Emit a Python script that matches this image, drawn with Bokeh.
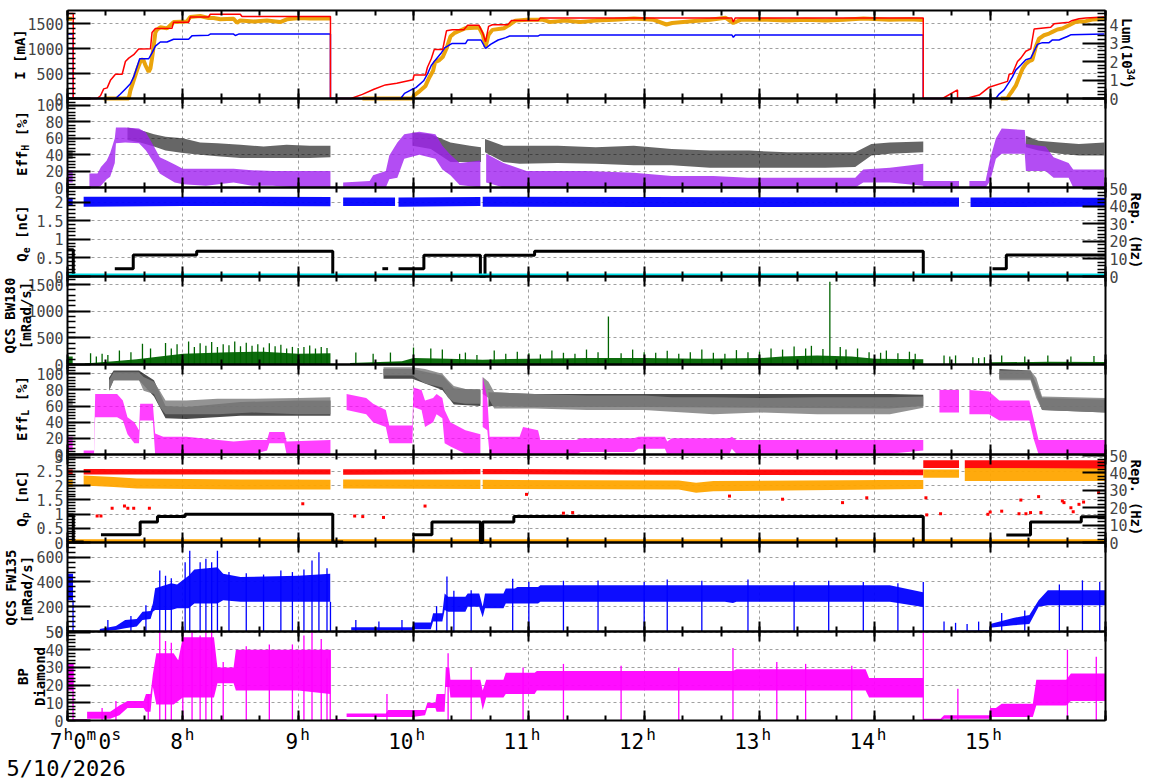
import math
from bokeh.plotting import figure
from bokeh.models import (Range1d, LinearAxis, SingleIntervalTicker, Label,
                          CustomJSTickFormatter)
from bokeh.embed import file_html
from bokeh.resources import INLINE

MONO = "DejaVu Sans Mono"

# ---------------- data (hours of day) ----------------
HOUR_TICKS = [8, 9, 10, 11, 12, 13, 14, 15]
DATE_TEXT = "5/10/2026"

# Panel 1: beam currents [mA] and luminosity [1e34]
I_red = [(7.0,1700),(7.05,1700),(7.05,0),(7.257,0),(7.286,55),(7.314,192),(7.344,212),(7.372,363),(7.416,486),(7.474,486),(7.502,740),(7.531,808),(7.574,877),(7.617,990),(7.719,993),(7.733,1322),(7.762,1400),(7.906,1404),(7.92,1527),(8.05,1527),(8.065,1630),(8.223,1630),(8.238,1685),(8.498,1685),(8.513,1640),(9.28,1640),(9.28,0),
         (9.458,0),(9.557,82),(9.657,184),(9.756,272),(9.855,306),(9.995,374),(10.005,469),(10.104,469),(10.121,626),(10.154,796),(10.18,980),(10.253,980),(10.286,1354),(10.336,1374),(10.436,1374),(10.469,1463),(10.568,1463),(10.601,1306),(10.625,1136),(10.651,1442),(10.684,1476),(10.817,1476),(10.85,1558),(11.082,1558),(11.099,1612),(12.76,1612),(12.773,1530),(12.79,1612),(14.42,1612),(14.42,0),
         (14.587,0),(14.717,171),(14.717,0),(14.79,0),(14.905,68),(14.991,226),(15.15,342),(15.165,486),(15.193,500),(15.237,740),(15.266,808),(15.309,945),(15.352,993),(15.381,1390),(15.525,1425),(15.554,1493),(15.684,1527),(15.713,1562),(15.771,1596),(15.829,1610),(15.99,1630)]
I_blue = [(7.0,1288),(7.05,1288),(7.05,0),(7.416,0),(7.459,89),(7.502,192),(7.545,295),(7.574,431),(7.603,637),(7.626,795),(7.704,795),(7.733,911),(7.762,1048),(7.805,1130),(7.863,1130),(7.92,1185),(8.05,1185),(8.079,1253),(8.223,1267),(8.238,1288),(8.44,1288),(8.455,1260),(8.484,1288),(9.28,1288),(9.28,0),
          (9.889,0),(9.922,102),(9.988,184),(10.021,218),(10.088,354),(10.121,490),(10.154,660),(10.187,762),(10.237,898),(10.27,1013),(10.32,1081),(10.336,1102),(10.452,1102),(10.469,1170),(10.585,1170),(10.625,1000),(10.668,1081),(10.734,1170),(10.8,1217),(10.834,1251),(11.082,1251),(11.099,1272),(12.76,1272),(12.773,1225),(12.79,1272),(14.42,1272),(14.42,0),
          (15.049,0),(15.078,89),(15.121,171),(15.165,329),(15.193,431),(15.222,568),(15.266,671),(15.309,774),(15.352,808),(15.381,945),(15.41,1082),(15.453,1117),(15.511,1117),(15.54,1171),(15.597,1171),(15.626,1199),(15.669,1240),(15.698,1274),(15.99,1288)]
Lum = [(7.0,4.31),(7.04,4.31), None,
       (7.314,0.0),(7.531,0.0),(7.545,0.43),(7.574,0.98),(7.603,1.54),(7.632,2.0),(7.655,2.13),(7.675,1.81),(7.704,1.44),(7.719,1.63),(7.733,2.18),(7.747,2.83),(7.762,3.57),(7.776,3.72),(7.805,3.85),(7.863,3.79),(7.906,4.04),(7.92,4.13),(8.036,4.16),(8.065,4.41),(8.151,4.46),(8.223,4.35),(8.267,4.35),(8.325,4.28),(8.44,4.31),(8.469,4.09),(8.498,4.22),(8.613,4.16),(8.729,4.22),(8.844,4.13),(8.902,4.28),(9.017,4.35),(9.1,4.32),(9.279,4.32), None,
       (9.557,0.0),(9.988,0.0),(10.005,0.17),(10.054,0.4),(10.104,0.68),(10.137,1.14),(10.17,1.5),(10.187,1.97),(10.22,2.06),(10.253,2.24),(10.286,2.7),(10.32,3.35),(10.353,3.53),(10.386,3.62),(10.452,3.8),(10.568,3.84),(10.601,3.44),(10.625,2.79),(10.651,3.44),(10.684,3.71),(10.784,3.8),(10.834,3.99),(10.883,4.21),(10.983,4.26),(11.115,4.26),(11.182,4.14),(11.314,4.21),(11.447,4.14),(11.58,4.21),(11.745,4.26),(11.911,4.32),(12.077,4.26),(12.193,4.0),(12.243,4.08),(12.409,4.18),(12.574,4.26),(12.707,4.36),(12.773,4.08),(12.84,4.26),(13.072,4.26),(13.237,4.21),(13.403,4.26),(13.569,4.21),(13.735,4.26),(13.901,4.32),(14.126,4.26),(14.3,4.28),(14.418,4.25), None,
       (15.092,0.0),(15.15,0.0),(15.165,0.18),(15.193,0.42),(15.222,0.69),(15.251,1.15),(15.28,1.6),(15.309,1.87),(15.338,2.02),(15.366,2.09),(15.395,2.78),(15.424,3.24),(15.467,3.42),(15.511,3.51),(15.54,3.6),(15.583,3.73),(15.626,3.78),(15.684,3.96),(15.742,4.15),(15.829,4.18),(15.886,4.27),(15.944,4.29),(15.99,4.33)]

# Panel 2: Eff_H [%]  (time, low, high) of the point clouds
EffH_black = [(7.0,35,45),(7.045,35,45), None,
              (7.52,58,73),(7.63,55,70),(7.75,50,65),(7.85,45,62),(8.0,42,60),(8.15,40,55),(8.3,38,54),(8.5,36,52),(8.7,36,50),(8.9,36,52),(9.1,36,51),(9.28,37,51), None,
              (9.99,51,67),(10.15,47,65),(10.32,31,55),(10.49,31,51),(10.585,31,49), None,
              (10.62,43,59),(10.78,31,51),(10.92,29,51),(11.25,30,51),(11.58,29,49),(11.91,27,51),(12.24,27,47),(12.57,24,45),(12.91,24,45),(13.24,24,43),(13.57,24,43),(13.83,25,43),(13.97,39,53),(14.13,41,55),(14.42,43,56), None,
              (15.31,49,63),(15.42,45,57),(15.6,41,55),(15.77,39,53),(15.99,39,55)]
EffH_purple = [(7.0,6,21),(7.045,6,21), None,
               (7.19,0,17),(7.26,0,17),(7.29,2,25),(7.34,10,33),(7.37,13,42),(7.41,30,60),(7.42,54,73),(7.5,55,73),(7.62,54,72),(7.68,45,67),(7.75,30,50),(7.8,17,37),(7.86,12,33),(7.93,6,28),(8.0,4,23),(8.2,2,23),(8.44,6,23),(8.6,2,21),(8.78,2,20),(9.0,0,20),(9.28,0,20), None,
               (9.39,0,6),(9.62,0,8),(9.65,0,15),(9.76,0,20),(9.79,10,39),(9.86,12,55),(9.92,35,65),(10.05,40,68),(10.19,35,65),(10.25,22,51),(10.32,15,40),(10.4,3,30),(10.58,0,33), None,
               (10.63,6,41),(10.78,0,30),(10.98,0,20),(11.5,0,20),(11.91,0,18),(12.24,0,14),(12.6,0,14),(12.9,0,12),(13.4,0,12),(13.83,0,12),(13.9,6,22),(14.13,6,24),(14.42,2,29),(14.42,0,8),(14.73,0,8), None,
               (14.82,0,8),(14.96,0,8),(15.0,8,35),(15.05,35,60),(15.1,41,72),(15.3,41,70),(15.31,20,53),(15.48,20,50),(15.55,12,37),(15.68,12,30),(15.72,0,22),(15.99,0,22)]

# Panel 3: Q_e [nC]
Qe_blue = [(7.0,1.9,2.12),(7.045,1.9,2.12), None, (7.14,1.88,2.15),(8.0,1.9,2.15),(9.28,1.89,2.14), None,
           (9.39,1.9,2.13),(9.84,1.9,2.13), None, (9.87,1.88,2.13),(10.58,1.9,2.14), None,
           (10.6,1.88,2.15),(12.0,1.87,2.14),(14.73,1.88,2.13), None, (14.83,1.87,2.13),(16.0,1.88,2.12)]
Qe_rep = [(7.0,0.72),(7.05,0.72),(7.05,0.02),(7.14,0.02), None,
          (7.41,0.21),(7.57,0.21),(7.57,0.58),(8.12,0.58),(8.12,0.68),(9.3,0.68),(9.3,0.02),(9.39,0.02), None,
          (9.73,0.21),(9.78,0.21), None,
          (9.87,0.21),(10.09,0.21),(10.09,0.57),(10.58,0.57),(10.58,0.0),(10.62,0.0),(10.62,0.57),(11.05,0.57),(11.05,0.68),(14.42,0.68),(14.42,0.0), None,
          (14.73,0.02),(14.83,0.02), None,
          (15.02,0.21),(15.14,0.21),(15.14,0.58),(16.0,0.58)]
Qe_zero = [(7.0,0.03),(16.0,0.03)]

# Panel 4: QCS BW180 [mRad/s]
BW180_fill = [(7.0,0,150),(7.045,0,150), None,
              (7.15,0,20),(7.4,0,60),(7.6,0,100),(7.8,0,150),(8.0,0,200),(8.4,0,230),(8.7,0,240),(9.0,0,200),(9.28,0,210), None,
              (9.45,0,30),(9.9,0,60),(10.0,0,120),(10.3,0,110),(10.6,0,90),(11.0,0,110),(11.5,0,120),(12.0,0,120),(12.5,0,110),(13.0,0,120),(13.2,0,150),(13.5,0,170),(13.8,0,150),(14.0,0,110),(14.42,0,100), None,
              (15.0,0,40),(15.5,0,50),(16.0,0,45)]
BW180_spikes = [(7.2,211),(7.25,150),(7.3,200),(7.35,180),(7.45,262),(7.55,230),(7.65,387),(7.72,300),(7.85,405),(7.9,300),(7.95,380),(8.05,430),(8.1,330),(8.15,400),(8.2,350),(8.25,420),(8.3,330),(8.35,380),(8.4,360),(8.45,430),(8.5,340),(8.55,410),(8.6,350),(8.65,380),(8.7,320),(8.75,400),(8.8,340),(8.85,370),(8.9,300),(8.95,330),(9.0,310),(9.05,330),(9.1,355),(9.15,300),(9.2,330),(9.25,310),
                (9.5,224),(9.65,200),(9.8,224),(10.0,318),(10.15,300),(10.25,280),(10.4,200),(10.45,224),(10.55,180),(10.7,262),(10.8,200),(10.9,240),(11.0,210),(11.1,190),(11.2,262),(11.3,220),(11.4,200),(11.5,280),(11.6,230),(11.69,900),(11.8,210),(11.9,280),(12.0,230),(12.1,220),(12.2,260),(12.3,200),(12.4,230),(12.5,280),(12.6,220),(12.7,200),(12.8,270),(12.9,230),(13.0,240),(13.1,300),(13.2,280),(13.3,336),(13.4,300),(13.45,350),(13.55,290),(13.61,1550),(13.7,330),(13.75,280),(13.85,300),(13.95,230),(14.05,220),(14.1,262),(14.2,210),(14.3,240),(14.35,200),
                (14.6,170),(14.65,150),(14.7,170),(14.85,137),(14.9,120),(14.95,137),(15.1,168),(15.3,150),(15.5,168),(15.7,150),(15.9,160)]

# Panel 5: Eff_L [%]
EffL_black = [(7.36,79,95),(7.4,92,104),(7.62,92,104),(7.75,72,92),(7.85,45,60),(8.03,44,59),(8.5,48,65),(9.0,48,67),(9.28,48,67), None,
              (9.74,94,106),(9.99,94,106),(10.25,80,98),(10.35,62,82),(10.58,60,80), None,
              (10.65,60,77),(11.05,59,75),(12.0,59,75),(13.0,58,75),(14.13,57,75),(14.42,60,74), None,
              (15.08,94,106),(15.35,94,104),(15.45,55,70),(16.0,52,68)]
EffL_gray = [(7.0,61,69),(7.045,61,69), None,
             (7.36,79,92),(7.4,92,102),(7.62,92,102),(7.66,79,96),(7.75,75,90),(7.8,59,79),(7.85,50,67),(8.03,50,67),(8.3,50,69),(8.6,52,69),(9.0,50,70),(9.28,50,71), None,
             (9.74,98,108),(9.99,98,108),(10.1,88,106),(10.25,83,100),(10.3,70,92),(10.35,65,85),(10.45,63,81),(10.58,63,81), None,
             (10.6,75,96),(10.65,70,90),(10.7,57,77),(11.05,57,75),(11.5,55,73),(12.0,55,73),(12.24,53,71),(12.6,50,71),(13.0,52,70),(13.5,50,71),(14.13,50,71),(14.42,58,72), None,
             (15.08,92,104),(15.35,92,104),(15.4,70,95),(15.45,55,72),(16.0,52,70)]
EffL_magenta = [(7.0,5,22),(7.045,5,22), None,
                (7.14,0,5),(7.23,0,5),(7.24,46,75),(7.43,46,75),(7.48,42,67),(7.52,25,46),(7.58,14,40),(7.62,14,30),(7.63,42,63),(7.74,42,63),(7.76,0,26),(7.83,0,22),(8.03,0,22),(8.44,0,16),(8.6,0,18),(8.73,5,18),(8.75,14,28),(8.88,14,28),(8.9,0,16),(9.28,0,18), None,
                (9.42,55,75),(9.59,50,70),(9.65,40,63),(9.76,34,55),(9.79,14,36),(9.99,14,36),(10.0,59,83),(10.07,55,80),(10.1,34,67),(10.17,40,70),(10.2,50,75),(10.25,45,70),(10.27,14,55),(10.32,10,40),(10.45,1,30),(10.58,1,25), None,
                (10.6,34,96),(10.64,30,70),(10.66,0,22),(10.92,0,22),(10.95,0,34),(11.08,0,30),(11.1,0,18),(11.41,0,18),(11.45,3,20),(11.91,3,20),(11.95,7,22),(12.18,7,22),(12.2,0,16),(12.24,1,20),(12.74,1,20),(12.76,7,22),(12.8,1,18),(14.13,1,18),(14.42,5,18), None,
                (14.56,52,80),(14.73,52,80), None,
                (14.82,50,80),(14.99,50,78),(15.08,42,67),(15.34,42,67),(15.38,18,42),(15.42,0,18),(16.0,0,18)]

# Panel 6: Q_p [nC]
Qp_red = [(7.0,2.39,2.56),(7.045,2.39,2.56), None, (7.14,2.39,2.58),(9.28,2.39,2.57), None,
          (9.39,2.38,2.57),(10.58,2.4,2.58), None, (10.6,2.4,2.58),(12.0,2.38,2.56),(14.42,2.36,2.56),(14.42,2.62,2.89),(14.73,2.62,2.89), None,
          (14.78,2.6,2.89),(16.0,2.58,2.89)]
Qp_orange = [(7.0,1.95,2.21),(7.045,1.95,2.21), None, (7.14,2.0,2.35),(7.4,1.95,2.3),(7.6,1.9,2.25),(8.5,1.86,2.21),(9.28,1.86,2.2), None,
             (9.39,1.9,2.21),(10.58,1.88,2.2), None, (10.6,1.88,2.2),(12.3,1.86,2.18),(12.45,1.75,2.1),(12.6,1.8,2.16),(14.42,1.88,2.2),(14.42,2.27,2.56),(14.73,2.27,2.56), None,
             (14.78,2.16,2.62),(16.0,2.16,2.6)]
Qp_rep = [(7.0,0.97),(7.05,0.97),(7.05,0.02),(7.14,0.02), None,
          (7.29,0.27),(7.63,0.27),(7.63,0.72),(7.78,0.72),(7.78,0.91),(8.02,0.91),(8.02,0.99),(9.3,0.99),(9.3,0.02),(9.39,0.02), None,
          (9.99,0.27),(10.16,0.27),(10.16,0.72),(10.58,0.72),(10.58,0.0),(10.6,0.0),(10.6,0.72),(10.87,0.72),(10.87,0.91),(14.42,0.91),(14.42,0.0), None,
          (15.14,0.26),(15.35,0.26),(15.35,0.72),(15.79,0.72),(15.79,0.9),(16.0,0.9)]
Qp_zero = [(7.0,0.04),(16.0,0.04)]
Qp_red_out = [(7.257,0.93),(7.29,0.93),(7.387,1.2),(7.494,1.28),(7.523,1.2),(7.574,1.2),(7.71,1.2),(9.04,1.36),(9.49,0.93),(9.56,0.91),(9.74,0.88),(10.1,1.28),(10.98,1.69),(11.3,1.03),(11.38,1.05),(12.74,1.63),(13.2,1.52),(13.72,1.4),(13.93,1.57),(14.443,1.57),(14.45,0.97),(14.57,1.01),(14.98,0.99),(15.0,1.07),(15.1,1.1),(15.266,1.49),(15.25,1.01),(15.31,1.01),(15.35,1.05),(15.42,1.61),(15.44,1.05),(15.626,1.46),(15.64,1.4),(15.7,1.22),(15.72,1.08),(15.77,1.34),(15.81,1.42),(15.94,1.75)]

# Panel 7: QCS FW135 [mRad/s]
FW135_fill = [(7.0,253,467),(7.048,253,467), None,
              (7.28,0,20),(7.42,13,45),(7.5,27,93),(7.6,40,100),(7.65,93,160),(7.72,100,165),(7.74,160,227),(7.76,173,350),(7.9,173,390),(7.95,187,380),(8.05,187,450),(8.1,227,500),(8.3,227,520),(8.35,253,467),(8.5,240,440),(9.0,240,450),(9.278,240,467), None,
              (9.46,8,35),(9.99,8,35),(10.0,19,72),(10.15,19,72),(10.17,80,147),(10.25,80,147),(10.27,173,307),(10.3,160,280),(10.45,160,280),(10.47,200,307),(10.57,200,307),(10.6,115,200),(10.62,187,307),(10.78,187,307),(10.8,227,347),(10.88,227,347),(10.9,227,360),(11.08,227,360),(11.1,240,373),(12.7,240,373),(12.77,230,373),(12.8,240,373),(14.13,240,373),(14.418,197,317), None,
              (14.57,0,5),(14.99,0,10),(15.0,30,60),(15.2,50,110),(15.34,60,133),(15.42,200,253),(15.5,213,333),(16.0,213,333)]
FW135_spikes = [(7.048,253),(7.35,93),(7.55,125),(7.68,213),(7.8,493),(7.85,450),(7.9,430),(8.02,560),(8.06,653),(8.15,560),(8.2,587),(8.25,560),(8.3,653),(8.4,480),(8.55,470),(8.7,460),(8.85,493),(8.95,480),(9.05,500),(9.12,573),(9.18,640),(9.25,510),(9.28,240),(9.5,93),(9.7,80),(9.9,93),(10.2,205),(10.29,445),(10.35,330),(10.5,333),(10.86,427),(11.0,400),(11.3,410),(11.6,413),(12.0,400),(12.2,420),(12.5,410),(12.9,420),(13.3,400),(13.6,410),(13.9,400),(14.2,390),(14.42,400),(14.6,80),(14.7,70),(14.8,60),(14.9,80),(15.1,150),(15.3,170),(15.6,380),(15.8,413),(15.95,400)]
FW135_base = [(9.28,1),(9.46,1), None, (14.42,1),(14.57,1)]

# Panel 8: BP Diamond
BP_fill = [(7.0,17,32),(7.048,17,32), None,
           (7.17,1,5),(7.37,1,5),(7.45,3,8.5),(7.52,7,11),(7.66,7,11),(7.68,5,15),(7.72,5,15),(7.74,19,26),(7.77,9,38),(7.92,9,38),(7.96,11,34),(8.0,13,47),(8.27,13,47),(8.3,21,30),(8.44,21,30),(8.46,17,40),(9.0,17,40),(9.278,15,40), None,
           (9.42,2,4),(9.76,2,4),(9.78,2,6),(9.99,2,6),(10.1,3,6),(10.12,7,10),(10.19,7,10),(10.2,5,15),(10.27,5,15),(10.28,19,30),(10.31,19,30),(10.32,13,23),(10.58,13,23),(10.6,6,17),(10.63,13,23),(10.78,13,23),(10.8,15,27),(11.05,15,27),(11.07,17,28),(12.77,17,28),(12.8,17,29),(13.92,17,29),(13.95,13,24),(14.418,13,24), None,
           (14.42,0,1),(14.57,0,1),(14.6,1,3),(14.99,1,3),(15.0,2,7),(15.05,2,7),(15.1,2,9.5),(15.37,2,9.5),(15.4,8.5,23),(15.66,8.5,23),(15.7,11,26.5),(16.0,11,26.5)]
BP_spikes = [(7.048,32),(7.3,7),(7.42,11),(7.7,15),(7.8,50),(7.85,45),(7.9,44),(8.0,50),(8.08,50),(8.15,48),(8.2,50),(8.25,50),(8.35,33),(8.55,42),(8.75,43),(8.95,43),(9.05,48),(9.12,50),(9.2,46),(9.25,35),(9.278,40),(9.77,15),(10.3,38),(10.5,30),(10.95,30),(11.3,32),(11.8,31),(12.3,30),(12.77,41),(13.15,33),(13.4,32),(13.8,31),(14.42,50),(14.72,18),(15.67,40),(15.92,36)]
BP_base = [(7.05,0.3),(7.17,0.3), None, (9.28,0.3),(9.42,0.3)]

# ---------------- layout (pixel rows of the eight stacked panels) ----------------
W, H = 1172, 782
X0, X1 = 67, 1105                   # panel frame, left/right pixel columns
PXH = (X1 - X0) / 9.0               # pixels per hour
# name, top px, bottom px, y max, major tick step
PANELS = [("p1", 10, 98, 1760, 500), ("p2", 98, 187, 108.5, 20), ("p3", 187, 276, 2.396, 0.5),
          ("p4", 276, 364, 1650, 500), ("p5", 364, 454, 111.5, 20), ("p6", 454, 542, 3.09, 0.5),
          ("p7", 542, 631, 719, 200), ("p8", 631, 720, 50.3, 10)]
RIGHT = {"p1": (4.757, 1), "p3": (50.6, 10), "p6": (50.6, 10)}

def prange(top_px, bot_px, ytop):
    k = ytop / (bot_px - top_px)
    return Range1d(-(H - bot_px) * k, ytop + top_px * k)

p = figure(width=W, height=H, x_range=Range1d(7 - X0 / PXH, 16 + (W - X1) / PXH),
           y_range=Range1d(0, 1), x_axis_type=None, y_axis_type=None, min_border=0,
           toolbar_location=None, output_backend="svg")
p.outline_line_color = None
p.background_fill_color = "white"
p.border_fill_color = "white"

ranges = {}
for name, t, b, ytop, step in PANELS:
    ranges[name] = prange(t, b, ytop)
    if name in RIGHT:
        ranges[name + "r"] = prange(t, b, RIGHT[name][0])
p.extra_y_ranges = ranges

FMT = CustomJSTickFormatter(code="return String(Math.round(tick*1000)/1000);")
GRIDC = "#a0a0a0"
NOLAB = dict(major_label_text_color=None, major_label_text_font_size="1px", major_label_standoff=0)

for name, t, b, ytop, step in PANELS:
    ph = b - t
    # dashed grid (drawn as full-length ticks, kept under the data)
    p.add_layout(LinearAxis(y_range_name=name, fixed_location=0, bounds=(7, 16),
                            ticker=SingleIntervalTicker(interval=1, num_minor_ticks=0),
                            major_tick_in=ph, major_tick_out=0, minor_tick_in=0, minor_tick_out=0,
                            major_tick_line_color=GRIDC, major_tick_line_dash="3 3",
                            major_tick_line_width=1, axis_line_color=None, level="underlay",
                            **NOLAB), "below")
    p.add_layout(LinearAxis(y_range_name=name, fixed_location=7, bounds=(0, ytop),
                            ticker=SingleIntervalTicker(interval=step, num_minor_ticks=0),
                            major_tick_in=X1 - X0, major_tick_out=0, minor_tick_in=0,
                            minor_tick_out=0, major_tick_line_color=GRIDC,
                            major_tick_line_dash="3 3", major_tick_line_width=1,
                            axis_line_color=None, level="underlay", **NOLAB), "left")
    # frame: time ticks on top and bottom
    for loc, side in ((0, "below"), (ytop, "above")):
        p.add_layout(LinearAxis(y_range_name=name, fixed_location=loc, bounds=(7, 16),
                                ticker=SingleIntervalTicker(interval=1, num_minor_ticks=3),
                                major_tick_in=10, major_tick_out=0, minor_tick_in=5,
                                minor_tick_out=0, major_tick_line_width=2,
                                minor_tick_line_width=2, axis_line_width=2, **NOLAB), side)
    # left value axis
    p.add_layout(LinearAxis(y_range_name=name, fixed_location=7, bounds=(0, ytop),
                            ticker=SingleIntervalTicker(interval=step, num_minor_ticks=5),
                            formatter=FMT, major_label_text_font=MONO,
                            major_label_text_font_size="15px", major_label_standoff=4,
                            major_tick_in=23, major_tick_out=0, minor_tick_in=8, minor_tick_out=0,
                            major_tick_line_width=2, minor_tick_line_width=1.5,
                            axis_line_width=2), "left")
    # right axis (with ticks where the panel has a second scale)
    if name in RIGHT:
        rtop, rstep = RIGHT[name]
        p.add_layout(LinearAxis(y_range_name=name + "r", fixed_location=16, bounds=(0, rtop),
                                ticker=SingleIntervalTicker(interval=rstep, num_minor_ticks=5),
                                formatter=FMT, major_label_text_font=MONO,
                                major_label_text_font_size="15px", major_label_standoff=4,
                                major_tick_in=23, major_tick_out=0, minor_tick_in=8,
                                minor_tick_out=0, major_tick_line_width=2,
                                minor_tick_line_width=1.5, axis_line_width=2), "right")
    else:
        p.add_layout(LinearAxis(y_range_name=name, fixed_location=16, bounds=(0, ytop),
                                ticker=SingleIntervalTicker(interval=step, num_minor_ticks=0),
                                major_tick_in=0, major_tick_out=0, minor_tick_in=0,
                                minor_tick_out=0, axis_line_width=2, **NOLAB), "right")

# ---------------- helpers ----------------
def split(seq):
    out, cur = [], []
    for it in seq:
        if it is None:
            if cur:
                out.append(cur)
            cur = []
        else:
            cur.append(it)
    if cur:
        out.append(cur)
    return out

def draw_band(data, rn, color, alpha=1.0):
    for seg in split(data):
        p.varea(x=[s[0] for s in seg], y1=[s[1] for s in seg], y2=[s[2] for s in seg],
                fill_color=color, fill_alpha=alpha, y_range_name=rn)

def draw_line(data, rn, color, width):
    for seg in split(data):
        p.line([s[0] for s in seg], [s[1] for s in seg], line_color=color, line_width=width,
               y_range_name=rn)

def draw_spikes(data, rn, color, width=1.0):
    p.segment(x0=[s[0] for s in data], y0=[0] * len(data), x1=[s[0] for s in data],
              y1=[s[1] for s in data], line_color=color, line_width=width, y_range_name=rn)

def txt(text, x, y_down, angle=0.0, size="14px", bold=True, align="center"):
    p.add_layout(Label(x=x, y=H - y_down, x_units="screen", y_units="screen", text=text,
                       angle=angle, text_align=align, text_baseline="middle", text_font=MONO,
                       text_font_size=size, text_font_style="bold" if bold else "normal",
                       text_color="black"))

CH, SCH = 8.43, 6.0     # advances of 14px / 10px mono

def vtitle_sub(main, sub, rest, xc, yc):
    # rest is drawn after one blank character cell
    total = (len(main) + 1 + len(rest)) * CH + len(sub) * SCH
    y0 = yc + total / 2          # bottom end (text reads upward)
    txt(main, xc, y0, math.pi / 2, align="left")
    txt(sub, xc + 4, y0 - len(main) * CH, math.pi / 2, size="10px", align="left")
    txt(rest, xc, y0 - (len(main) + 1) * CH - len(sub) * SCH, math.pi / 2, align="left")

# ---------------- data drawing ----------------
draw_line(Lum, "p1r", "#eaa40c", 4)
draw_line(I_blue, "p1", "#0000ff", 1.5)
draw_line(I_red, "p1", "#ff0000", 1.5)

draw_band(EffH_black, "p2", "black", 0.6)
draw_band(EffH_purple, "p2", "#a020f0", 0.8)

draw_band(Qe_blue, "p3", "#0000ff", 0.95)
draw_line(Qe_rep, "p3", "black", 3)
draw_line(Qe_zero, "p3", "#00e0e8", 4)

draw_band(BW180_fill, "p4", "#006400", 0.95)
draw_spikes(BW180_spikes, "p4", "#006400", 1.3)

draw_band(EffL_black, "p5", "black", 0.7)
draw_band(EffL_gray, "p5", "#808080", 0.85)
draw_band(EffL_magenta, "p5", "#ff00ff", 0.75)

draw_band(Qp_red, "p6", "#ff0000", 0.95)
draw_band(Qp_orange, "p6", "#ffa500", 0.95)
draw_line(Qp_zero, "p6", "#ffa500", 4)
draw_line(Qp_rep, "p6", "black", 3)
p.scatter([s[0] for s in Qp_red_out], [s[1] for s in Qp_red_out], marker="square", size=3,
          fill_color="#ff0000", line_color=None, y_range_name="p6")

draw_band(FW135_fill, "p7", "#0000ff", 0.95)
draw_spikes(FW135_spikes, "p7", "#0000ff", 1.3)
draw_line(FW135_base, "p7", "#0000ff", 1)

draw_band(BP_fill, "p8", "#ff00ff", 0.95)
draw_spikes(BP_spikes, "p8", "#ff00ff", 1.3)
draw_line(BP_base, "p8", "#ff00ff", 1.5)

# ---------------- axis titles ----------------
R90 = math.pi / 2
txt("I [mA]", 19, 54, R90)
vtitle_sub("Eff", "H", "[%]", 21, 143)
vtitle_sub("Q", "e", "[nC]", 21, 233)
txt("QCS BW180", 9, 315, R90)
txt("[mRad/s]", 25, 315, R90)
vtitle_sub("Eff", "L", "[%]", 21, 408)
vtitle_sub("Q", "p", "[nC]", 21, 498)
txt("QCS FW135", 10, 587, R90)
txt("[mRad/s]", 26, 589, R90)
txt("BP", 22, 676, R90)
txt("Diamond", 39, 676, R90)

# right titles (read downward)
lum_total = 7 * CH + 2 * SCH
ly = 53 - lum_total / 2
txt("Lum(10", 1126, ly, -R90, align="left")
txt("34", 1130, ly + 6 * CH, -R90, size="10px", align="left")
txt(")", 1126, ly + 6 * CH + 2 * SCH, -R90, align="left")
txt("Rep. (Hz)", 1135, 230, -R90)
txt("Rep. (Hz)", 1135, 497, -R90)

# ---------------- time labels ----------------
def xlab(text, xpx, sup=False, align="left"):
    txt(text, xpx, 734 if sup else 740, 0.0, size="16px" if sup else "21px", bold=False,
        align=align)

for part, xpx, sup in [("7", 62, False), ("h", 63, True), ("0", 73, False), ("m", 86, True),
                       ("0", 98, False), ("s", 111, True)]:
    xlab(part, xpx, sup, align="right" if part == "7" else "left")
for h in HOUR_TICKS:
    tx = X0 + (h - 7) * PXH
    xlab(str(h), tx, False, align="right")
    xlab("h", tx + 2, True)
txt(DATE_TEXT, 6, 768, 0.0, size="22px", bold=False, align="left")

open("out.html", "w").write(file_html(p, INLINE))
